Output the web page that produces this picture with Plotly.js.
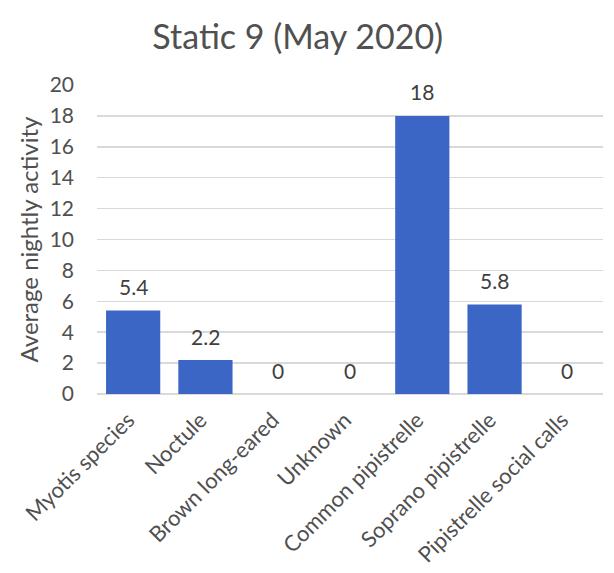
<!DOCTYPE html>
<html>
<head>
<meta charset="utf-8">
<script src="https://cdn.plot.ly/plotly-3.0.1.min.js"></script>
<style>html,body{margin:0;padding:0;background:#fff;}#chart{width:614px;height:573px;}</style>
</head>
<body>
<div id="chart"></div>
<script>
const categories = ["Myotis species", "Noctule", "Brown long-eared", "Unknown", "Common pipistrelle", "Soprano pipistrelle", "Pipistrelle social calls"];
const values = [5.4, 2.2, 0, 0, 18, 5.8, 0];
const labels = ["5.4", "2.2", "0", "0", "18", "5.8", "0"];
const yTicks = [0, 2, 4, 6, 8, 10, 12, 14, 16, 18, 20];

const font = "Lato, 'Open Sans', sans-serif";
const annotations = categories.map((c, i) => ({
  x: c, y: values[i], xref: "x", yref: "y", text: labels[i],
  showarrow: false, xanchor: "center", yanchor: "middle", yshift: 24,
  font: {family: font, size: 21, color: "#404040"}
}));
Plotly.newPlot("chart", [{
  type: "bar",
  x: categories,
  y: values,
  marker: {color: "#3C66C6"},
  hoverinfo: "none"
}], {
  width: 614, height: 573,
  margin: {l: 97, r: 11, t: 85, b: 179},
  paper_bgcolor: "#fff", plot_bgcolor: "#fff",
  bargap: 0.25,
  annotations: annotations,
  title: {text: "Static 9 (May 2020)", x: 0.485, xanchor: "center", y: 0.936, yanchor: "middle",
          font: {family: font, size: 34, color: "#505050"}},
  xaxis: {tickangle: -45, tickfont: {family: font, size: 22, color: "#505050"},
          showgrid: false, showline: false, ticks: "", fixedrange: true, ticklabelstandoff: 8, ticklabelshift: -5},
  yaxis: {range: [0, 20], tickvals: yTicks, ticktext: yTicks.map(String),
          tickfont: {family: font, size: 21, color: "#505050"},
          gridcolor: "#d9d9d9", gridwidth: 1.5, zeroline: true, zerolinecolor: "#d9d9d9", zerolinewidth: 1.5,
          ticks: "", ticklen: 0, showline: false, ticklabelstandoff: 22,
          title: {text: "Average nightly activity", standoff: 4, font: {family: font, size: 24, color: "#505050"}}},
  showlegend: false
}, {displayModeBar: false, staticPlot: true});
</script>
</body>
</html>
